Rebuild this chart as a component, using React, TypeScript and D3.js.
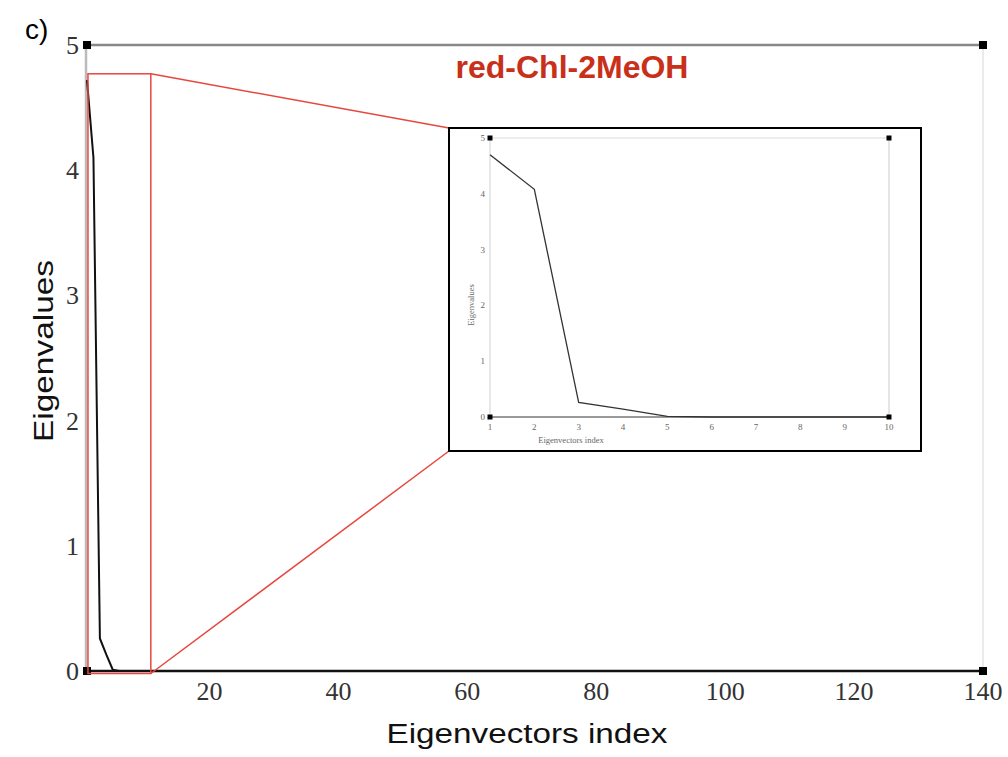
import React from "react";
import * as d3 from "d3";

// Data
const eigIndex = [1, 2, 3, 4, 5, 6, 7, 8, 9, 10, 140];
const eigValues = [4.72, 4.1, 0.26, 0.13, 0.01, 0.0, 0.0, 0.0, 0.0, 0.0, 0.0];
const insetIndex = [1, 2, 3, 4, 5, 6, 7, 8, 9, 10];
const insetValues = [4.7, 4.08, 0.26, 0.14, 0.01, 0.0, 0.0, 0.0, 0.0, 0.0];
const mainXTicks = [20, 40, 60, 80, 100, 120, 140];
const mainYTicks = [0, 1, 2, 3, 4, 5];
const insetXTicks = [1, 2, 3, 4, 5, 6, 7, 8, 9, 10];
const insetYTicks = [0, 1, 2, 3, 4, 5];
const zoomBoxX = [1.15, 10.9];
const zoomBoxY = [-0.02, 4.77];
const title = "red-Chl-2MeOH";

export default function App() {
  const W = 1008, H = 757;
  const x = d3.scaleLinear().domain([1, 140]).range([87, 983]);
  const y = d3.scaleLinear().domain([0, 5]).range([671, 45]);
  const ix = d3.scaleLinear().domain([1, 10]).range([490, 889]);
  const iy = d3.scaleLinear().domain([0, 5]).range([417, 138]);

  const mainLine = d3.line<number>()
    .x((_, i) => x(eigIndex[i]))
    .y((d) => y(d));
  const insetLine = d3.line<number>()
    .x((_, i) => ix(insetIndex[i]))
    .y((d) => iy(d));

  const serif = "'Liberation Serif', 'DejaVu Serif', serif";
  const sans = "'Liberation Sans', Arial, sans-serif";

  const bx0 = x(zoomBoxX[0]), bx1 = x(zoomBoxX[1]);
  const by0 = y(zoomBoxY[1]), by1 = y(zoomBoxY[0]);
  const inset = { x0: 449, y0: 128, x1: 921, y1: 451 };

  const sq = (cx: number, cy: number, s: number, k: string) => (
    <rect key={k} x={cx - s / 2} y={cy - s / 2} width={s} height={s} fill="#000" />
  );

  return (
    <svg width={W} height={H} style={{ position: "absolute", left: 0, top: 0, background: "#fff" }}>
      <rect x={0} y={0} width={W} height={H} fill="#fff" />
      <text x={25} y={39} fontFamily={sans} fontSize={28} fill="#000">c)</text>

      {/* main frame */}
      <line x1={x(1)} x2={x(140)} y1={y(5)} y2={y(5)} stroke="#888" strokeWidth={2.5} />
      <line x1={x(140)} x2={x(140)} y1={y(5)} y2={y(0)} stroke="#e4e4e4" strokeWidth={1.5} />
      <line x1={x(1) - 1} x2={x(1) - 1} y1={y(5)} y2={y(0)} stroke="#bbb" strokeWidth={2.5} />
      <line x1={x(1)} x2={x(140)} y1={y(0)} y2={y(0)} stroke="#111" strokeWidth={2.5} />

      {/* main data */}
      <path d={mainLine(eigValues) || ""} fill="none" stroke="#111" strokeWidth={2} />

      {sq(x(1), y(5), 8, "a")}
      {sq(x(140), y(5), 8, "b")}
      {sq(x(1), y(0), 8, "c")}
      {sq(x(140), y(0), 8, "d")}

      {mainYTicks.map((t) => (
        <text key={"y" + t} x={79} y={y(t) + 9} textAnchor="end" fontFamily={serif} fontSize={26} fill="#333">{t}</text>
      ))}
      {mainXTicks.map((t) => (
        <text key={"x" + t} x={x(t)} y={700} textAnchor="middle" fontFamily={serif} fontSize={26} fill="#333">{t}</text>
      ))}

      <text x={527} y={743} textAnchor="middle" fontFamily={sans} fontSize={27} fill="#111" textLength={281} lengthAdjust="spacingAndGlyphs">Eigenvectors index</text>
      <text transform="translate(53,351) rotate(-90)" textAnchor="middle" fontFamily={sans} fontSize={27} fill="#111" textLength={182} lengthAdjust="spacingAndGlyphs">Eigenvalues</text>

      <text x={572} y={78} textAnchor="middle" fontFamily={sans} fontWeight="bold" fontSize={32} fill="#c8301a">{title}</text>

      {/* zoom box and connectors */}
      <rect x={bx0} y={by0} width={bx1 - bx0} height={by1 - by0} fill="none" stroke="#e8473f" strokeWidth={1.5} />
      <line x1={bx1} y1={by0} x2={inset.x0} y2={inset.y0} stroke="#e8473f" strokeWidth={1.5} />
      <line x1={bx1} y1={by1} x2={inset.x0} y2={inset.y1} stroke="#e8473f" strokeWidth={1.5} />

      {/* inset */}
      <rect x={inset.x0} y={inset.y0} width={inset.x1 - inset.x0} height={inset.y1 - inset.y0} fill="#fff" stroke="#000" strokeWidth={2} />
      <line x1={ix(1)} x2={ix(10)} y1={iy(5)} y2={iy(5)} stroke="#e6e6e6" strokeWidth={1.5} />
      <line x1={ix(10)} x2={ix(10)} y1={iy(5)} y2={iy(0)} stroke="#ddd" strokeWidth={1.5} />
      <line x1={ix(1)} x2={ix(1)} y1={iy(5)} y2={iy(0)} stroke="#e0e0e0" strokeWidth={1.5} />
      <line x1={ix(1)} x2={ix(10)} y1={iy(0)} y2={iy(0)} stroke="#777" strokeWidth={1.5} />
      <path d={insetLine(insetValues) || ""} fill="none" stroke="#333" strokeWidth={1.3} />
      {sq(ix(1), iy(5), 5, "ia")}
      {sq(ix(10), iy(5), 5, "ib")}
      {sq(ix(1), iy(0), 5, "ic")}
      {sq(ix(10), iy(0), 5, "id")}
      {insetYTicks.map((t) => (
        <text key={"iy" + t} x={485} y={iy(t) + 3} textAnchor="end" fontFamily={serif} fontSize={9} fill="#666">{t}</text>
      ))}
      {insetXTicks.map((t) => (
        <text key={"ix" + t} x={ix(t)} y={430} textAnchor="middle" fontFamily={serif} fontSize={9} fill="#666">{t}</text>
      ))}
      <text x={571} y={443} textAnchor="middle" fontFamily={serif} fontSize={8.5} fill="#666">Eigenvectors index</text>
      <text transform="translate(474,305) rotate(-90)" textAnchor="middle" fontFamily={serif} fontSize={8.5} fill="#666">Eigenvalues</text>
    </svg>
  );
}
